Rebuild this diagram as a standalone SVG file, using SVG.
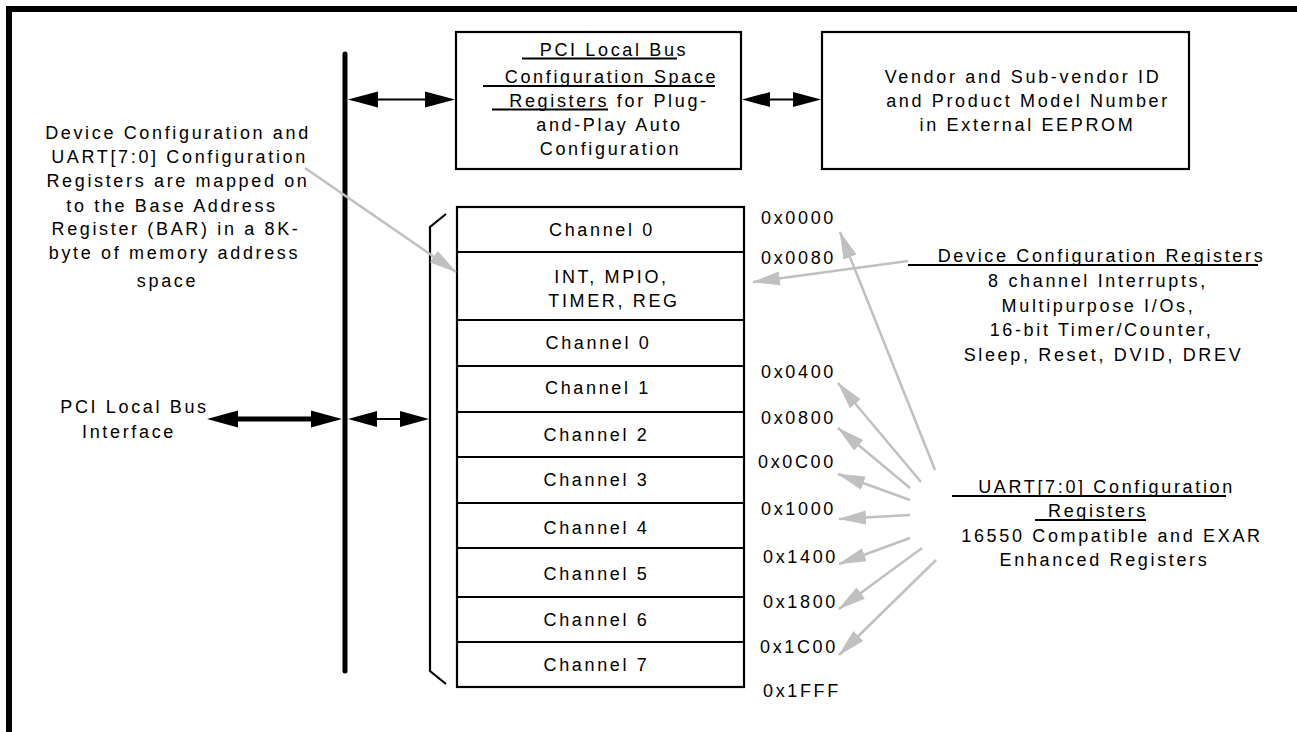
<svg xmlns="http://www.w3.org/2000/svg" width="1297" height="732" viewBox="0 0 1297 732">
<style>
text{font-family:"Liberation Sans",Arial,sans-serif;font-size:18px;letter-spacing:2.65px;fill:#000;text-anchor:middle}
.st{text-anchor:start}
.box{fill:#fff;stroke:#000;stroke-width:2.2}
.ul{stroke:#000;stroke-width:1.8}
.ga{stroke:#c0c0c0;stroke-width:2.5;fill:none;marker-end:url(#gah)}
.bh{fill:#000}
</style>
<defs>
<marker id="gah" markerUnits="userSpaceOnUse" markerWidth="28" markerHeight="16" viewBox="0 0 28 16" refX="27" refY="8" orient="auto">
<path d="M0,1 L28,8 L0,15 z" fill="#c0c0c0"/>
</marker>
</defs>
<rect width="1297" height="732" fill="#fff"/>
<g id="frame">
<path d="M9,732 L9,9 L1297,9" fill="none" stroke="#000" stroke-width="6"/>
</g>
<g id="bus">
<line x1="345" y1="54" x2="345" y2="671" stroke="#000" stroke-width="5" stroke-linecap="round"/>
</g>
<g id="left-note">
<text x="178" y="139">Device Configuration and</text>
<text x="179.5" y="163">UART[7:0] Configuration</text>
<text x="178" y="187">Registers are mapped on</text>
<text x="172" y="212">to the Base Address</text>
<text x="176" y="235">Register (BAR) in a 8K-</text>
<text x="174.5" y="259">byte of memory address</text>
<text x="167.5" y="287">space</text>
</g>
<g id="pci-interface">
<text x="134.5" y="413">PCI Local Bus</text>
<text x="129" y="438">Interface</text>
</g>
<g id="pci-config">
<rect class="box" x="456" y="32" width="285" height="137"/>
<text x="614" y="55.5">PCI Local Bus</text>
<line class="ul" x1="522" y1="58.5" x2="677" y2="58.5"/>
<text x="611.5" y="83">Configuration Space</text>
<line class="ul" x1="483" y1="86" x2="715" y2="86"/>
<text x="609" y="106.5">Registers for Plug-</text>
<line class="ul" x1="492" y1="109.5" x2="608" y2="109.5"/>
<text x="609.5" y="130.5">and-Play Auto</text>
<text x="610.5" y="154.5">Configuration</text>
</g>
<g id="vendor">
<rect class="box" x="822" y="32" width="367" height="137"/>
<text x="1023" y="83">Vendor and Sub-vendor ID</text>
<text x="1028" y="107">and Product Model Number</text>
<text x="1027.5" y="131">in External EEPROM</text>
</g>
<g id="memory-map">
<path d="M446,214 L430,227 L430,671 L446,684" fill="none" stroke="#000" stroke-width="2.2"/>
<rect class="box" x="457" y="207" width="287" height="480"/>
<g stroke="#000" stroke-width="2.2">
<line x1="457" y1="252" x2="744" y2="252"/>
<line x1="457" y1="320" x2="744" y2="320"/>
<line x1="457" y1="366" x2="744" y2="366"/>
<line x1="457" y1="412" x2="744" y2="412"/>
<line x1="457" y1="457" x2="744" y2="457"/>
<line x1="457" y1="503" x2="744" y2="503"/>
<line x1="457" y1="548" x2="744" y2="548"/>
<line x1="457" y1="597" x2="744" y2="597"/>
<line x1="457" y1="642" x2="744" y2="642"/>
</g>
<text x="602" y="235.5">Channel 0</text>
<text x="611.5" y="283">INT, MPIO,</text>
<text x="614" y="306.5">TIMER, REG</text>
<text x="598.5" y="349">Channel 0</text>
<text x="598" y="394">Channel 1</text>
<text x="596.5" y="440.5">Channel 2</text>
<text x="596.5" y="486">Channel 3</text>
<text x="596.5" y="533.5">Channel 4</text>
<text x="596.5" y="580">Channel 5</text>
<text x="596.5" y="626">Channel 6</text>
<text x="596.5" y="670.5">Channel 7</text>
</g>
<g id="addresses">
<text class="st" x="761" y="224">0x0000</text>
<text class="st" x="761" y="264">0x0080</text>
<text class="st" x="761" y="378">0x0400</text>
<text class="st" x="761" y="423.5">0x0800</text>
<text class="st" x="758" y="468">0x0C00</text>
<text class="st" x="761" y="515">0x1000</text>
<text class="st" x="763" y="562.5">0x1400</text>
<text class="st" x="763" y="608">0x1800</text>
<text class="st" x="760" y="653">0x1C00</text>
<text class="st" x="763" y="697">0x1FFF</text>
</g>
<g id="device-config-note">
<text x="1101.5" y="262">Device Configuration Registers</text>
<line class="ul" x1="908" y1="265" x2="1258" y2="265"/>
<text x="1098" y="287">8 channel Interrupts,</text>
<text x="1098.5" y="312">Multipurpose I/Os,</text>
<text x="1101.5" y="336">16-bit Timer/Counter,</text>
<text x="1103.5" y="361">Sleep, Reset, DVID, DREV</text>
</g>
<g id="uart-note">
<text x="1106.5" y="493">UART[7:0] Configuration</text>
<line class="ul" x1="952" y1="496" x2="1226" y2="496"/>
<text x="1098" y="517">Registers</text>
<line class="ul" x1="1035" y1="520" x2="1146" y2="520"/>
<text x="1112" y="542">16550 Compatible and EXAR</text>
<text x="1104.5" y="566">Enhanced Registers</text>
</g>
<g id="connectors">
<line x1="376" y1="99.5" x2="427" y2="99.5" stroke="#000" stroke-width="2"/>
<polygon class="bh" points="348,99.5 378,91.5 378,107.5"/>
<polygon class="bh" points="455,99.5 425,91.5 425,107.5"/>
<line x1="767" y1="99.5" x2="796" y2="99.5" stroke="#000" stroke-width="2"/>
<polygon class="bh" points="742,99.5 770,92 770,107"/>
<polygon class="bh" points="821,99.5 793,92 793,107"/>
<line x1="236" y1="419" x2="314" y2="419" stroke="#000" stroke-width="5"/>
<polygon class="bh" points="207,419 238,410.5 238,427.5"/>
<polygon class="bh" points="342,419 311,410.5 311,427.5"/>
<line x1="375" y1="419" x2="402" y2="419" stroke="#000" stroke-width="2"/>
<polygon class="bh" points="348,419 377,411 377,427"/>
<polygon class="bh" points="429,419 400,411 400,427"/>
<line class="ga" x1="305" y1="168" x2="456" y2="272"/>
<line class="ga" x1="908" y1="261" x2="753" y2="282"/>
<line class="ga" x1="935" y1="470" x2="840" y2="232"/>
<line class="ga" x1="921" y1="482" x2="838" y2="383"/>
<line class="ga" x1="910" y1="488" x2="838" y2="428"/>
<line class="ga" x1="910" y1="500" x2="838" y2="474"/>
<line class="ga" x1="910" y1="515" x2="839" y2="519"/>
<line class="ga" x1="910" y1="538" x2="839" y2="564"/>
<line class="ga" x1="922" y1="548" x2="839" y2="609"/>
<line class="ga" x1="936" y1="560" x2="839" y2="655"/>
</g>
</svg>
